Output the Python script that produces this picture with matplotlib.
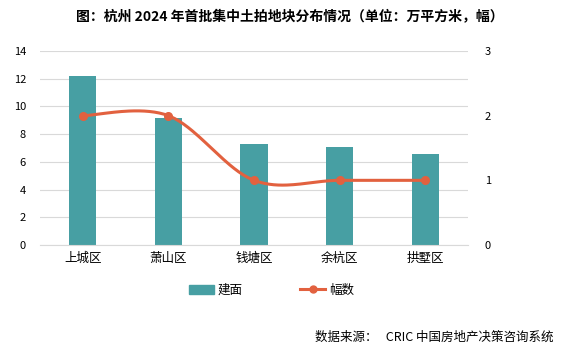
import numpy as np
import matplotlib.pyplot as plt
from matplotlib.lines import Line2D
from matplotlib.patches import Patch

plt.rcParams['font.family'] = ['Noto Sans CJK SC', 'DejaVu Sans']

districts = ['上城区', '萧山区', '钱塘区', '余杭区', '拱墅区']
area = [12.2, 9.2, 7.3, 7.1, 6.6]
plots = [2, 2, 1, 1, 1]

bar_color = '#479FA3'
line_color = '#E2613F'


def smooth(xs, ys, sx, sy, n=40):
    # Excel-like smoothed line: cubic bezier, control points at 1/6 of neighbour span
    p = np.column_stack([np.asarray(xs) * sx, np.asarray(ys) * sy])
    out = []
    for i in range(len(p) - 1):
        p0 = p[i - 1] if i > 0 else p[i]
        p3 = p[i + 2] if i + 2 < len(p) else p[i + 1]
        c1 = p[i] + (p[i + 1] - p0) / 6
        c2 = p[i + 1] - (p3 - p[i]) / 6
        t = np.linspace(0, 1, n)[:, None]
        seg = ((1 - t) ** 3) * p[i] + 3 * ((1 - t) ** 2) * t * c1 + 3 * (1 - t) * t ** 2 * c2 + t ** 3 * p[i + 1]
        out.append(seg)
    out = np.vstack(out)
    return out[:, 0] / sx, out[:, 1] / sy


fig = plt.figure(figsize=(5.62, 3.48), dpi=100)
ax = fig.add_axes([40 / 562, 1 - 245 / 348, 428 / 562, 194 / 348])
x = np.arange(len(districts))

ax.bar(x, area, width=0.32, color=bar_color, zorder=2)
ax.set_xlim(-0.5, 4.5)
ax.set_ylim(0, 14)
ax.set_yticks(range(0, 15, 2))
ax.grid(axis='y', color='#d9d9d9', linewidth=0.8, zorder=0)
ax.set_xticks(x)
ax.set_xticklabels(districts, fontsize=9)
ax.tick_params(axis='y', labelsize=8, length=0, pad=10)
ax.tick_params(axis='x', length=0, pad=5)
for s in ['top', 'right', 'left']:
    ax.spines[s].set_visible(False)
ax.spines['bottom'].set_color('#d9d9d9')

ax2 = ax.twinx()
ax2.set_ylim(0, 3)
ax2.set_yticks([0, 1, 2, 3])
ax2.tick_params(axis='y', labelsize=8, length=0, pad=12)
for s in ax2.spines.values():
    s.set_visible(False)
sx, sy = 85.6, 194 / 3
cx, cy = smooth(x, plots, sx, sy)
ax2.plot(cx, cy, color=line_color, linewidth=2.2, zorder=3)
ax2.plot(x, plots, 'o', color=line_color, markersize=5.5, zorder=4)

fig.text(0.515, 1 - 17 / 348, '图：杭州 2024 年首批集中土拍地块分布情况（单位：万平方米，幅）',
         ha='center', va='center', fontsize=10, fontweight='bold')

handles = [Patch(color=bar_color, label='建面'),
           Line2D([0], [0], color=line_color, linewidth=2.2, marker='o', markersize=5, label='幅数')]
fig.legend(handles=handles, loc='center', bbox_to_anchor=(0.483, 1 - 290 / 348), ncol=2,
           frameon=False, fontsize=9, handlelength=2.0, columnspacing=4.6, handletextpad=0.3)

fig.text(0.985, 1 - 337 / 348, '数据来源：   CRIC 中国房地产决策咨询系统',
         ha='right', va='center', fontsize=9)

fig.savefig('out.png', dpi=100)
